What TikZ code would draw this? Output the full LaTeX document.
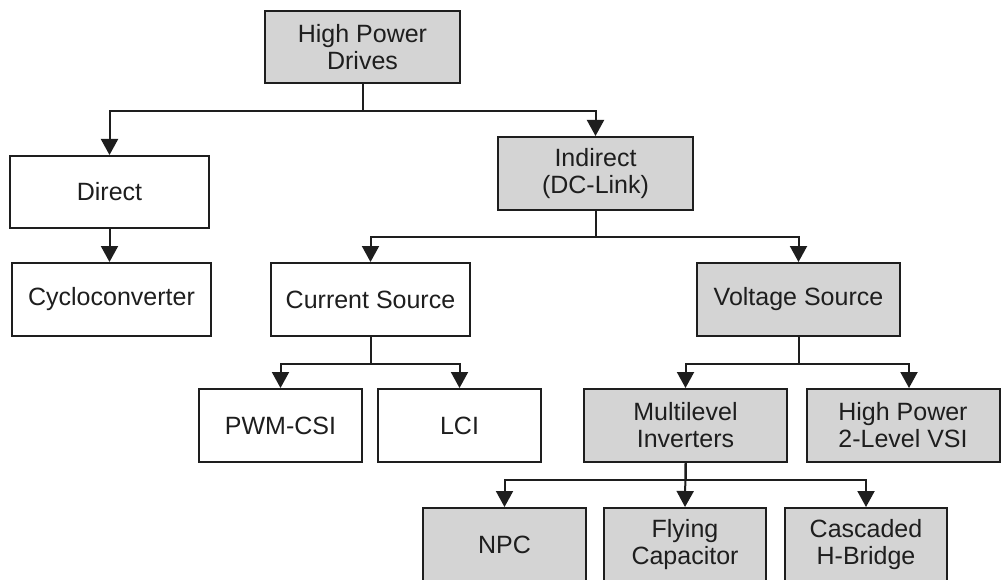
\documentclass[tikz,border=0pt]{standalone}
\usepackage{fontspec}
\setmainfont{Liberation Sans}
\usetikzlibrary{arrows.meta}
\definecolor{boxgray}{RGB}{212,212,212}
\definecolor{ink}{RGB}{30,30,30}
\tikzset{
  box/.style={draw=ink, line width=2pt, text=ink, align=center, inner sep=0pt,
    font=\fontsize{25}{27}\selectfont},
  gbox/.style={box, fill=boxgray},
  wbox/.style={box, fill=white},
  arr/.style={draw=ink, line width=2pt, -{Triangle[width=17pt 0,length=16pt 0]}},
  ln/.style={draw=ink, line width=2pt},
}
\begin{document}
\begin{tikzpicture}[x=1pt,y=-1pt]
\clip (0,0) rectangle (1001,580);
\fill[white] (0,0) rectangle (1001,580);
% nodes
\node[gbox, minimum width=195pt, minimum height=72pt] (hpd) at (362.5,47) {High Power\\Drives};
\node[wbox, minimum width=199pt, minimum height=72pt] (direct) at (109.5,192) {Direct};
\node[gbox, minimum width=195pt, minimum height=73pt] (indirect) at (595.5,173.5) {Indirect\\(DC-Link)};
\node[wbox, minimum width=199pt, minimum height=73pt] (cyclo) at (111.5,299.5) {Cycloconverter};
\node[wbox, minimum width=199pt, minimum height=73pt] (cs) at (370.5,299.5) {Current Source};
\node[gbox, minimum width=203pt, minimum height=73pt] (vs) at (798.5,299.5) {Voltage Source};
\node[wbox, minimum width=163pt, minimum height=73pt] (pwm) at (280.5,425.5) {PWM-CSI};
\node[wbox, minimum width=163pt, minimum height=73pt] (lci) at (459.5,425.5) {LCI};
\node[gbox, minimum width=203pt, minimum height=73pt] (ml) at (685.5,425.5) {Multilevel\\Inverters};
\node[gbox, minimum width=193pt, minimum height=73pt] (vsi) at (903,425.5) {High Power\\2-Level VSI};
\node[gbox, minimum width=163pt, minimum height=73pt] (npc) at (504.5,544.5) {NPC};
\node[gbox, minimum width=162pt, minimum height=73pt] (fly) at (685,544.5) {Flying\\Capacitor};
\node[gbox, minimum width=162pt, minimum height=73pt] (cas) at (866,544.5) {Cascaded\\H-Bridge};
% connectors
\draw[arr] (hpd.south) -- ++(0,27) -| (direct.north);
\draw[arr] (hpd.south) -- ++(0,27) -| (indirect.north);
\draw[arr] (direct.south) -- (direct.south |- cyclo.north);
\draw[arr] (indirect.south) -- ++(0,26) -| (cs.north);
\draw[arr] (indirect.south) -- ++(0,26) -| (vs.north);
\draw[arr] (cs.south) -- ++(0,27) -| (pwm.north);
\draw[arr] (cs.south) -- ++(0,27) -| (lci.north);
\draw[arr] (vs.south) -- ++(0,27) -| (ml.north);
\draw[arr] (vs.south) -- ++(0,27) -| ([xshift=6pt]vsi.north);
\draw[arr] (ml.south) -- ++(0,17) -| (npc.north);
\draw[arr] (ml.south) -- (fly.north);
\draw[arr] (ml.south) -- ++(0,17) -| (cas.north);
\end{tikzpicture}
\end{document}
